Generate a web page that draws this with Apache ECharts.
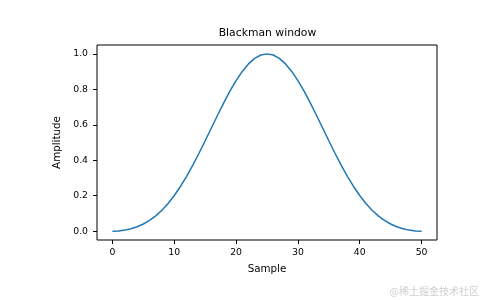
<!DOCTYPE html>
<html><head><meta charset="utf-8">
<script src="https://cdn.jsdelivr.net/npm/echarts@6/dist/echarts.min.js"></script>
<style>html,body{margin:0;padding:0;background:#fff}#c{width:485px;height:300px}</style>
</head><body><div id="c"></div>
<script>
const samples = [0,1,2,3,4,5,6,7,8,9,10,11,12,13,14,15,16,17,18,19,20,21,22,23,24,25,26,27,28,29,30,31,32,33,34,35,36,37,38,39,40,41,42,43,44,45,46,47,48,49,50];
const amplitude = [0.0,0.0014,0.0058,0.0134,0.0247,0.0402,0.0605,0.0863,0.1180,0.1561,0.2008,0.2519,0.3092,0.3720,0.4393,0.5098,0.5819,0.6539,0.7237,0.7895,0.8492,0.9010,0.9432,0.9744,0.9935,1.0,0.9935,0.9744,0.9432,0.9010,0.8492,0.7895,0.7237,0.6539,0.5819,0.5098,0.4393,0.3720,0.3092,0.2519,0.2008,0.1561,0.1180,0.0863,0.0605,0.0402,0.0247,0.0134,0.0058,0.0014,0.0];
const xTicks = [0,10,20,30,40,50];
const yTicks = [0,0.2,0.4,0.6,0.8,1.0];
const titleText = 'Blackman window';
const xName = 'Sample';
const yName = 'Amplitude';

const font = 'DejaVu Sans';
const chart = echarts.init(document.getElementById('c'), null, {renderer:'canvas'});
chart.setOption({
  animation:false,
  backgroundColor:'#fff',
  grid:{left:97,right:48,top:45,bottom:60,show:true,borderColor:'#000',borderWidth:1,backgroundColor:'transparent'},
  xAxis:{type:'value',min:-2.5,max:52.5,
    name:xName,nameLocation:'middle',nameGap:24,nameTextStyle:{fontFamily:font,fontSize:10.3,color:'#000'},
    axisLine:{show:false,onZero:false},splitLine:{show:false},
    axisTick:{show:true,inside:false,length:4,lineStyle:{color:'#000'},customValues:xTicks},
    axisLabel:{fontFamily:font,fontSize:9.3,color:'#000',margin:8,customValues:xTicks,formatter:v=>String(v)}},
  yAxis:{type:'value',min:-0.05,max:1.05,
    name:yName,nameLocation:'middle',nameGap:34,nameRotate:90,nameTextStyle:{fontFamily:font,fontSize:10.3,color:'#000'},
    axisLine:{show:false,onZero:false},splitLine:{show:false},
    axisTick:{show:true,inside:false,length:4,lineStyle:{color:'#000'},customValues:yTicks},
    axisLabel:{fontFamily:font,fontSize:9.3,color:'#000',margin:9,customValues:yTicks,formatter:v=>v.toFixed(1)}},
  graphic:[
    {type:'text',x:267.5,y:33.5,style:{text:titleText,fill:'#000',font:'10.8px "DejaVu Sans"',textAlign:'center',textVerticalAlign:'middle'}},
    {type:'text',right:6,bottom:4,style:{text:'@稀土掘金技术社区',fill:'#cfcfcf',font:'10px "Noto Sans CJK SC"'}}
  ],
  series:[{type:'line',data:samples.map((s,i)=>[s,amplitude[i]]),showSymbol:false,
    lineStyle:{color:'#1f77b4',width:1.5},itemStyle:{color:'#1f77b4'}}]
});
</script></body></html>
